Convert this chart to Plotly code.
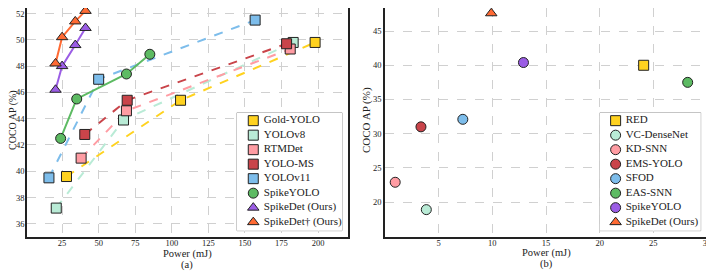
import plotly.graph_objects as go

W, H = 714, 273
OFF = 8  # page body margin of the html page, in pixels

# ---------------- data (a) ----------------
series_a = ["Gold-YOLO", "YOLOv8", "RTMDet", "YOLO-MS", "YOLOv11", "SpikeYOLO", "SpikeDet (Ours)", "SpikeDet† (Ours)"]
power_gold = [28, 106, 198]
ap_gold = [39.6, 45.4, 49.8]
power_v8 = [21, 67, 183]
ap_v8 = [37.2, 43.9, 49.8]
power_rtm = [38, 69, 181]
ap_rtm = [41.0, 44.6, 49.3]
power_ms = [40.5, 69.5, 178.5]
ap_ms = [42.8, 45.4, 49.7]
power_v11 = [16, 50, 157]
ap_v11 = [39.5, 47.0, 51.5]
power_spikeyolo = [24, 35, 69, 85]
ap_spikeyolo = [42.5, 45.5, 47.4, 48.9]
power_spikedet = [20.5, 25, 34, 41]
ap_spikedet = [46.2, 48.0, 49.6, 50.9]
power_spikedet2 = [20.5, 25, 34, 41]
ap_spikedet2 = [48.2, 50.2, 51.4, 52.2]

# ---------------- data (b) ----------------
series_b = ["RED", "VC-DenseNet", "KD-SNN", "EMS-YOLO", "SFOD", "EAS-SNN", "SpikeYOLO", "SpikeDet (Ours)"]
power_b = [24.1, 3.85, 0.95, 3.35, 7.25, 28.2, 12.9, 9.9]
ap_b = [40.0, 18.9, 22.9, 31.0, 32.1, 37.5, 40.4, 47.6]

# ---------------- style ----------------
GOLD = "#FFD21F"
MINT = "#B9EBD6"
PINK = "#FF9CA3"
RED = "#C9444A"
BLUE = "#7DBDEB"
GREEN = "#5DBB63"
PURPLE = "#9B5DE5"
ORANGE = "#FF6A33"
FONT = "Liberation Serif"
EDGE = "#222"

fig = go.Figure()

a_colors = [GOLD, MINT, PINK, RED, BLUE, GREEN, PURPLE, ORANGE]
a_symbols = ["square"] * 5 + ["circle", "triangle-up", "triangle-up"]
a_dashes = ["dash"] * 5 + ["solid"] * 3
a_x = [power_gold, power_v8, power_rtm, power_ms, power_v11, power_spikeyolo, power_spikedet, power_spikedet2]
a_y = [ap_gold, ap_v8, ap_rtm, ap_ms, ap_v11, ap_spikeyolo, ap_spikedet, ap_spikedet2]

for i, name in enumerate(series_a):
    fig.add_trace(go.Scatter(x=a_x[i], y=a_y[i], mode="lines",
                             line=dict(color=a_colors[i], width=2, dash=a_dashes[i]),
                             showlegend=False, hoverinfo="skip", xaxis="x", yaxis="y"))
for i, name in enumerate(series_a):
    fig.add_trace(go.Scatter(x=a_x[i], y=a_y[i], mode="markers", name=name, showlegend=False,
                             cliponaxis=False,
                             marker=dict(symbol=a_symbols[i], size=10, color=a_colors[i],
                                         line=dict(color=EDGE, width=1)),
                             xaxis="x", yaxis="y"))

b_colors = [GOLD, MINT, PINK, RED, BLUE, GREEN, PURPLE, ORANGE]
b_symbols = ["square", "circle", "circle", "circle", "circle", "circle", "circle", "triangle-up"]
for i, name in enumerate(series_b):
    fig.add_trace(go.Scatter(x=[power_b[i]], y=[ap_b[i]], mode="markers", name=name, showlegend=False,
                             cliponaxis=False,
                             marker=dict(symbol=b_symbols[i], size=10, color=b_colors[i],
                                         line=dict(color=EDGE, width=1)),
                             xaxis="x2", yaxis="y2"))


def px(x):
    return min(max((x - OFF) / W, 0.0), 1.0)


def py(y):
    return min(max((H - (y - OFF)) / H, 0.0), 1.0)


# ---------------- legends (drawn on their own hidden axes) ----------------
def add_legend(names, colors, symbols, xa, ya):
    rows = list(range(len(names)))
    fig.add_trace(go.Scatter(x=[0.155] * len(names), y=rows, mode="markers", showlegend=False,
                             hoverinfo="skip",
                             marker=dict(symbol=symbols, size=10, color=colors, line=dict(color=EDGE, width=1)),
                             xaxis=xa, yaxis=ya))
    fig.add_trace(go.Scatter(x=[0.255] * len(names), y=rows, mode="text", text=names,
                             textposition="middle right", showlegend=False, hoverinfo="skip",
                             cliponaxis=False,
                             textfont=dict(family=FONT, size=11, color=EDGE),
                             xaxis=xa, yaxis=ya))
    fig.add_shape(type="rect", xref=xa + " domain", yref=ya + " domain", x0=0, x1=1, y0=0, y1=1,
                  fillcolor="rgba(255,255,255,0.9)", line=dict(color="#999", width=1), layer="below")


add_legend(series_a, a_colors, a_symbols, "x3", "y3")
add_legend(series_b, b_colors, b_symbols, "x4", "y4")

axis_common = dict(showline=True, mirror=True, linecolor=EDGE, linewidth=1.5,
                   showgrid=True, gridcolor="#d0d0d0", griddash="dash", gridwidth=1,
                   zeroline=False, ticks="",
                   tickfont=dict(family=FONT, size=8.5, color=EDGE))
hidden = dict(visible=False, showgrid=False, zeroline=False, fixedrange=True)


def label(text, x, y, size=11, angle=0):
    return dict(text=text, x=x, y=y, xref="paper", yref="paper", showarrow=False,
                xanchor="center", yanchor="middle", textangle=angle, borderpad=0,
                font=dict(family=FONT, size=size, color=EDGE))


# plot frames: top edge is limited by the page margin, so ranges are set to keep the data scale
fig.update_layout(
    width=W, height=H,
    margin=dict(l=0, r=0, t=0, b=0, autoexpand=False),
    paper_bgcolor="white", plot_bgcolor="white",
    font=dict(family=FONT, color=EDGE),
    showlegend=False,
    xaxis=dict(domain=[px(27), px(348)], range=[1, 220.5], tickvals=[25, 50, 75, 100, 125, 150, 175, 200],
               anchor="y", ticklabelstandoff=-3, **axis_common),
    yaxis=dict(domain=[py(237), 1.0], range=[35, 52.42], tickvals=[36, 38, 40, 42, 44, 46, 48, 50, 52],
               anchor="x", ticklabelstandoff=-1, **axis_common),
    xaxis2=dict(domain=[px(385), px(707)], range=[0, 30], tickvals=[5, 10, 15, 20, 25, 30],
                anchor="y2", ticklabelstandoff=-3, **axis_common),
    yaxis2=dict(domain=[py(237), 1.0], range=[14.9, 48.37], tickvals=[20, 25, 30, 35, 40, 45],
                anchor="x2", **axis_common),
    xaxis3=dict(domain=[px(237), px(342)], range=[0, 1], anchor="y3", **hidden),
    yaxis3=dict(domain=[py(230.7), py(112.7)], range=[7.59, -0.55], anchor="x3", **hidden),
    xaxis4=dict(domain=[px(600), px(700.7)], range=[0, 1], anchor="y4", **hidden),
    yaxis4=dict(domain=[py(230.7), py(112.7)], range=[7.59, -0.55], anchor="x4", **hidden),
    annotations=[
        label("Power (mJ)", px(187), py(254), size=10.5),
        label("(a)", px(187), py(265), size=10.5),
        label("Power (mJ)", px(546), py(253), size=10.5),
        label("(b)", px(546), py(264), size=10.5),
        label("COCO AP (%)", px(13), py(120), size=10, angle=-90),
        label("COCO AP (%)", px(366), py(120), size=11, angle=-90),
    ],
)

fig.write_html("out.html")
